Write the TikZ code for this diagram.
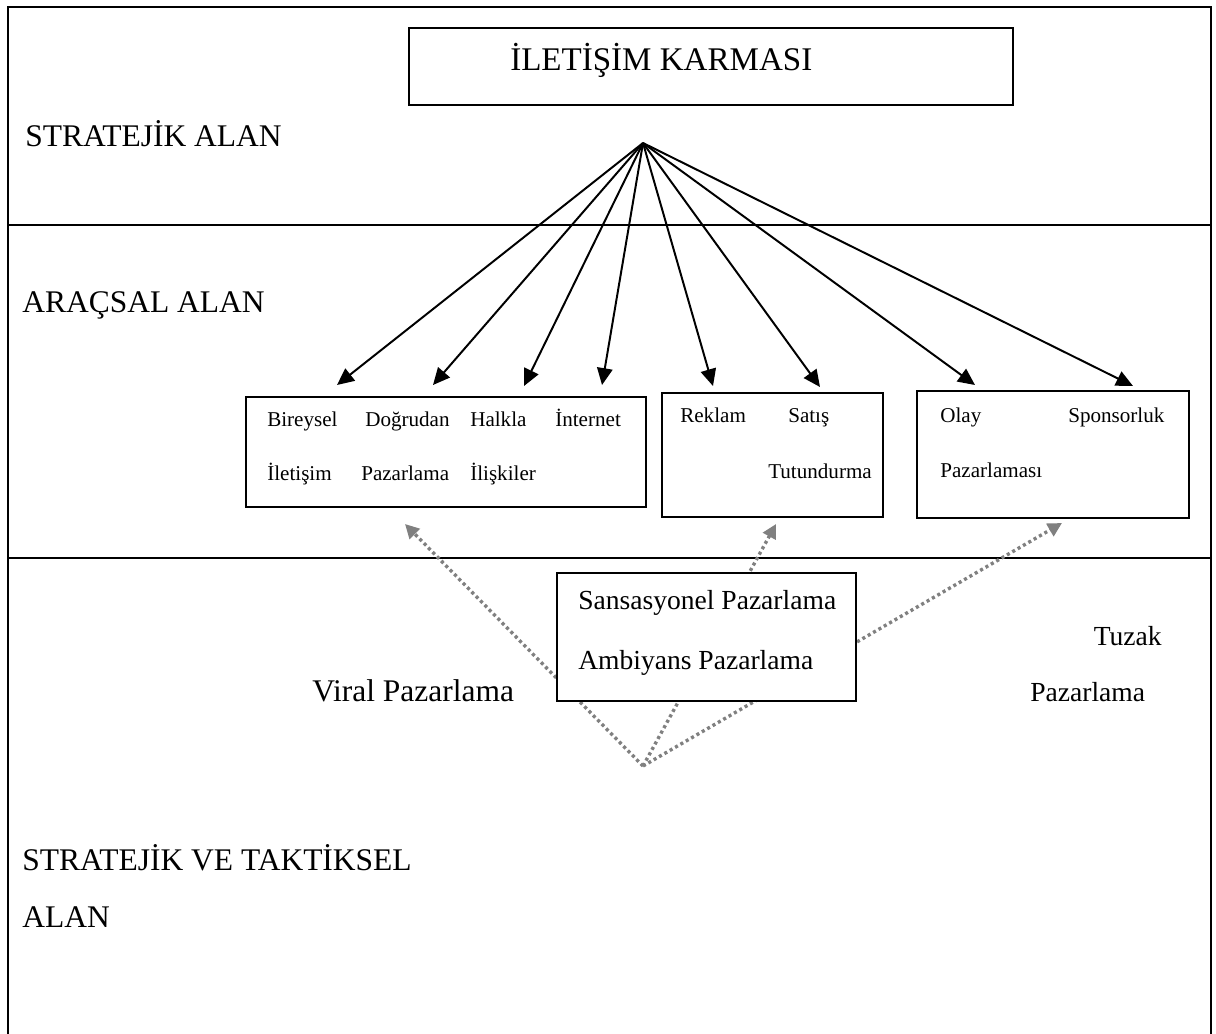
\documentclass[tikz,border=0pt]{standalone}
\usepackage{fontspec}
\setmainfont{Liberation Serif}
\usetikzlibrary{arrows.meta}
\usetikzlibrary{positioning}

\begin{document}
\begin{tikzpicture}[x=0.025cm, y=-0.025cm, >={Triangle[length=12pt,width=11pt]}]
	\tikzstyle{box}=[draw, line width=1.3pt, fill=white, anchor=north west, inner sep=0pt]
	\tikzstyle{big}=[anchor=base west, inner sep=0pt, font=\fontsize{22.4}{26}\selectfont]
	\tikzstyle{mid}=[anchor=base west, inner sep=0pt, font=\fontsize{19.6}{24}\selectfont]
	\tikzstyle{small}=[anchor=base west, inner sep=0pt, font=\fontsize{15}{18}\selectfont]
	\tikzstyle{arr}=[line width=1.4pt, ->]
	\tikzstyle{dots}=[gray, line width=2.4pt, dash pattern=on 2.2pt off 2.2pt, -{Triangle[length=10pt,width=10pt]}]

	\useasboundingbox (0,0) rectangle (1216,1033);
	% frame and the three areas
	\draw[line width=1.5pt] (8,1040) -- (8,7) -- (1211,7) -- (1211,1040);
	\draw[line width=1.5pt] (8,225) -- (1211,225) (8,558) -- (1211,558);

	\node[big] (l1) at (25,146) {STRATEJİK ALAN};
	\node[big] (l2) at (22,312) {ARAÇSAL ALAN};
	\node[big] (l3) at (22,870) {STRATEJİK VE TAKTİKSEL};
	\node[big] (l4) at (22,927) {ALAN};

	% top box
	\node[box, minimum width=15.1cm, minimum height=1.925cm] (mix) at (408,27) {};
	\node[big, font=\fontsize{23.5}{27}\selectfont] (mixt) at (510,70) {İLETİŞİM KARMASI};

	% tool boxes
	\node[box, minimum width=10cm, minimum height=2.75cm] (b1) at (245,396) {};
	\node[box, minimum width=5.525cm, minimum height=3.1cm] (b2) at (661,392) {};
	\node[box, minimum width=6.8cm, minimum height=3.175cm] (b3) at (916,390) {};

	\node[small] (w1) at (267,426) {Bireysel};
	\node[small] (w2) at (365,426) {Doğrudan};
	\node[small] (w3) at (470,426) {Halkla};
	\node[small] (w4) at (555,426) {İnternet};
	\node[small] (w5) at (267,480) {İletişim};
	\node[small] (w6) at (361,480) {Pazarlama};
	\node[small] (w7) at (470,480) {İlişkiler};
	\node[small] (w8) at (680,422) {Reklam};
	\node[small] (w9) at (788,422) {Satış};
	\node[small] (w10) at (768,478) {Tutundurma};
	\node[small] (w11) at (940,422) {Olay};
	\node[small] (w12) at (1068,422) {Sponsorluk};
	\node[small] (w13) at (940,477) {Pazarlaması};

	% arrows from the mix
	\coordinate (top) at (643,143);
	\foreach \n/\x/\y in {1/337/385, 2/433/385, 3/524/386, 4/602/385, 5/713/386, 6/820/387, 7/975/385, 8/1133/386}
		\coordinate (t\n) at (\x,\y);
	\foreach \n in {1,...,8}
		\draw[arr] (top) -- (t\n);

	% dotted arrows, box on top of them
	\coordinate (bot) at (643,766);
	\coordinate (d1) at (405,524);
	\coordinate (d2) at (776,524);
	\coordinate (d3) at (1062,523);
	\draw[dots] (bot) -- (d1);
	\draw[dots] (bot) -- (d2);
	\draw[dots] (bot) -- (d3);

	\node[box, minimum width=7.475cm, minimum height=3.2cm] (sens) at (556,572) {};
	\node[mid] (s1) at (578,609) {Sansasyonel Pazarlama};
	\node[mid] (s2) at (578,669) {Ambiyans Pazarlama};

	\node[big] (viral) at (312,701) {Viral Pazarlama};
	\node[mid, anchor=base east] (tz1) at (1162,645) {Tuzak};
	\node[mid] (tz2) at (1030,701) {Pazarlama};
\end{tikzpicture}
\end{document}
